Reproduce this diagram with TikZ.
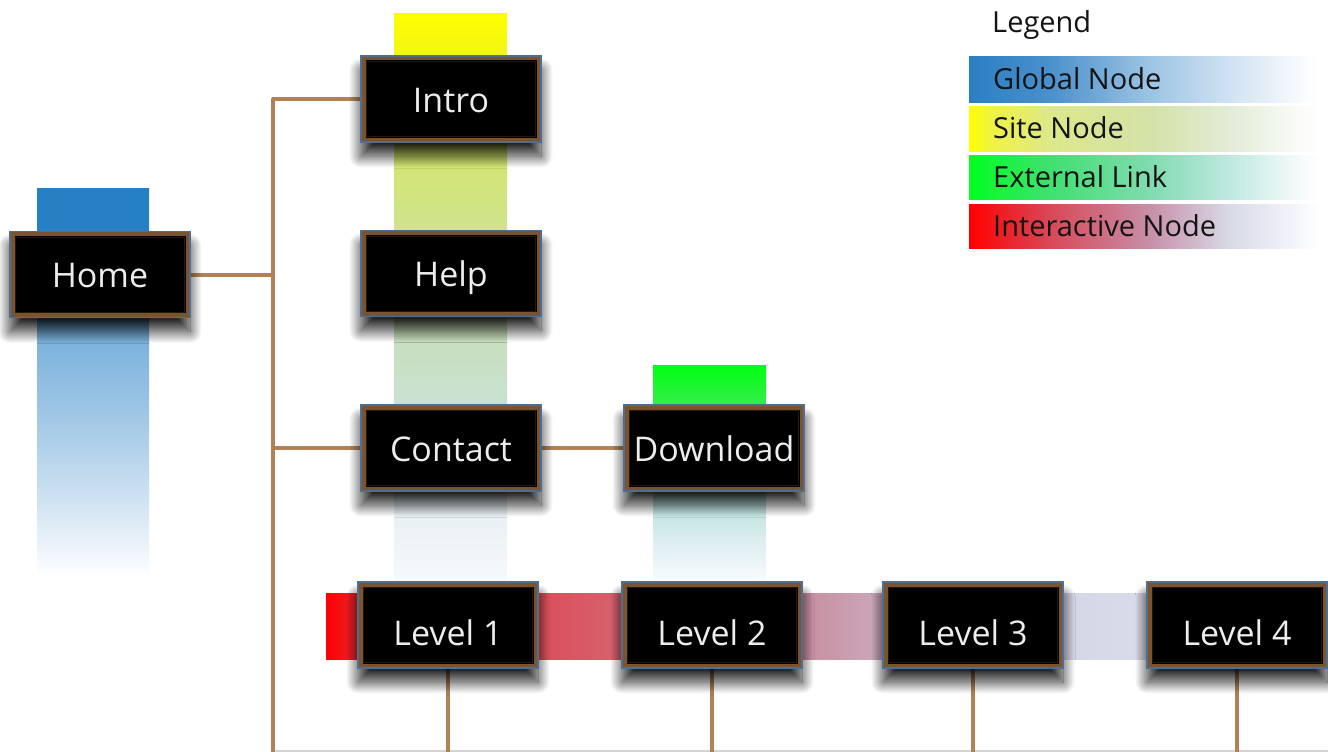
\documentclass[tikz,border=0pt]{standalone}
\usepackage{fontspec}
\setmainfont{Open Sans}
\usetikzlibrary{shadows.blur}
\pgfdeclarelayer{bg}
\pgfsetlayers{bg,main}

\definecolor{conn}{HTML}{B08256}
\definecolor{frameb}{HTML}{7A5430}
\definecolor{frameo}{HTML}{4F6E92}
\definecolor{boxtext}{HTML}{EDEDED}
\definecolor{gridline}{HTML}{D4D4D4}

% home bar
\definecolor{hbA}{HTML}{2880C4}
\definecolor{hbB}{HTML}{5C9DD3}
\definecolor{hbC}{HTML}{76B0DC}
\definecolor{hbD}{HTML}{A2C8E6}
\definecolor{hbE}{HTML}{CFE2F2}
\pgfdeclareverticalshading{homebar}{100bp}{color(0bp)=(white); color(25bp)=(white); color(35bp)=(hbE); color(45.3bp)=(hbD); color(56.8bp)=(hbC); color(60.6bp)=(hbB); color(70bp)=(hbA); color(100bp)=(hbA)}
% site bar
\definecolor{sbA}{HTML}{FFFF00}
\definecolor{sbB}{HTML}{F0F418}
\definecolor{sbC}{HTML}{D4E56C}
\definecolor{sbD}{HTML}{CFE38A}
\definecolor{sbE}{HTML}{C9DFBC}
\definecolor{sbF}{HTML}{C9E0D0}
\definecolor{sbG}{HTML}{E6EEF2}
\definecolor{sbH}{HTML}{F6F9FB}
\pgfdeclareverticalshading{sitebar}{100bp}{color(0bp)=(white); color(25bp)=(sbH); color(32.1bp)=(sbG); color(40.9bp)=(sbF); color(47.1bp)=(sbE); color(56.8bp)=(sbD); color(63bp)=(sbC); color(70.9bp)=(sbB); color(75bp)=(sbA); color(100bp)=(sbA)}
% external bar
\definecolor{ebA}{HTML}{00FF11}
\definecolor{ebB}{HTML}{30EE44}
\definecolor{ebC}{HTML}{70D8A0}
\definecolor{ebD}{HTML}{B8E0DC}
\definecolor{ebE}{HTML}{DCEDF0}
\definecolor{ebF}{HTML}{F6FAFB}
\pgfdeclareverticalshading{extbar}{100bp}{color(0bp)=(white); color(25bp)=(ebF); color(33.9bp)=(ebE); color(43.3bp)=(ebD); color(55bp)=(ebC); color(66.8bp)=(ebB); color(75bp)=(ebA); color(100bp)=(ebA)}
% interactive bar
\definecolor{ibA}{HTML}{FF0000}
\definecolor{ibB}{HTML}{E42832}
\definecolor{ibC}{HTML}{D9545F}
\definecolor{ibD}{HTML}{C894A6}
\definecolor{ibE}{HTML}{CFCFE0}
\definecolor{ibF}{HTML}{D6D9E7}
\definecolor{ibG}{HTML}{DFE3EE}
\pgfdeclarehorizontalshading{intbar}{100bp}{color(0bp)=(ibA); color(25bp)=(ibA); color(26.7bp)=(ibB); color(36.7bp)=(ibC); color(49.7bp)=(ibD); color(58.6bp)=(ibE); color(63.6bp)=(ibF); color(75bp)=(ibG); color(100bp)=(ibG)}

% legend shadings
\definecolor{lgA}{HTML}{2A7FC4}
\definecolor{lgB}{HTML}{4A90CC}
\definecolor{lgC}{HTML}{9DC4E4}
\definecolor{lgD}{HTML}{D0E2F2}
\definecolor{lgE}{HTML}{F8FBFD}
\pgfdeclarehorizontalshading{lgglobal}{100bp}{color(0bp)=(lgA); color(25bp)=(lgA); color(36.5bp)=(lgB); color(50.8bp)=(lgC); color(62.2bp)=(lgD); color(72.2bp)=(lgE); color(75bp)=(white); color(100bp)=(white)}
\definecolor{lsA}{HTML}{FFFF00}
\definecolor{lsB}{HTML}{F0F340}
\definecolor{lsC}{HTML}{DDE88A}
\definecolor{lsD}{HTML}{D3E2A8}
\definecolor{lsE}{HTML}{E2ECD8}
\definecolor{lsF}{HTML}{FAFCF8}
\pgfdeclarehorizontalshading{lgsite}{100bp}{color(0bp)=(lsA); color(25bp)=(lsA); color(28bp)=(lsB); color(36.5bp)=(lsC); color(50.8bp)=(lsD); color(62.2bp)=(lsE); color(72.2bp)=(lsF); color(75bp)=(white); color(100bp)=(white)}
\definecolor{leA}{HTML}{00FF20}
\definecolor{leB}{HTML}{3FE070}
\definecolor{leC}{HTML}{80DBB0}
\definecolor{leD}{HTML}{C0E8E0}
\definecolor{leE}{HTML}{F6FBFB}
\pgfdeclarehorizontalshading{lgext}{100bp}{color(0bp)=(leA); color(25bp)=(leA); color(36.5bp)=(leB); color(50.8bp)=(leC); color(62.2bp)=(leD); color(72.2bp)=(leE); color(75bp)=(white); color(100bp)=(white)}
\definecolor{liA}{HTML}{FF0000}
\definecolor{liB}{HTML}{D84858}
\definecolor{liC}{HTML}{C790A8}
\definecolor{liD}{HTML}{D8DAE8}
\definecolor{liE}{HTML}{F6F7FB}
\pgfdeclarehorizontalshading{lgint}{100bp}{color(0bp)=(liA); color(25bp)=(liA); color(36.5bp)=(liB); color(50.8bp)=(liC); color(62.2bp)=(liD); color(72.2bp)=(liE); color(75bp)=(white); color(100bp)=(white)}

\tikzset{
  sitebox/.style={rectangle, fill=black, draw=frameo, line width=1.5pt,
    minimum width=180pt, minimum height=86pt, inner sep=0pt,
    text=boxtext, font=\fontsize{34}{40}\selectfont,
    text height=30pt, text depth=4pt,
    blur shadow={shadow xshift=0pt, shadow yshift=-14pt, shadow blur radius=12pt, shadow opacity=85, shadow scale=1, shadow blur steps=24},
    path picture={\draw[frameb, line width=9pt] (path picture bounding box.south west) rectangle (path picture bounding box.north east);
                  \draw[black!70!frameb, line width=1pt] ([xshift=5.5pt,yshift=5.5pt]path picture bounding box.south west) rectangle ([xshift=-5.5pt,yshift=-5.5pt]path picture bounding box.north east);}},
  levelbox/.style={sitebox, text height=42pt, text depth=2pt},
  conline/.style={conn, line width=4pt},
  legtext/.style={anchor=west, inner sep=0pt, text=black!92, font=\fontsize{29}{34}\selectfont},
}

\begin{document}
\begin{tikzpicture}[x=1pt,y=-1pt]
\useasboundingbox (0,0) rectangle (1328,752);

% nodes
\node[sitebox] (home) at (100,274.5) {Home};
\node[sitebox] (intro) at (451,99) {Intro};
\node[sitebox] (help) at (451,273.5) {Help};
\node[sitebox] (contact) at (451,448) {Contact};
\node[sitebox] (download) at (714,448) {Download};
\node[levelbox] (l1) at (448,625) {Level 1};
\node[levelbox] (l2) at (712,625) {Level 2};
\node[levelbox] (l3) at (973,625) {Level 3};
\node[levelbox] (l4) at (1237,625) {Level 4};

\coordinate (trunktop) at (273,99);
\coordinate (trunkbot) at (273,754);

% legend
\node[legtext] (legend) at (992,25) {Legend};
\path[shading=lgglobal] (969,57) rectangle (1320,102);
\path[shading=lgsite] (969,106) rectangle (1320,151);
\path[shading=lgext] (969,155) rectangle (1320,199);
\path[shading=lgint] (969,204) rectangle (1320,248);
\node[legtext] (lg1) at (993,79) {Global Node};
\node[legtext] (lg2) at (993,128) {Site Node};
\node[legtext] (lg3) at (993,177) {External Link};
\node[legtext] (lg4) at (993,226) {Interactive Node};

\begin{pgfonlayer}{bg}
  % colour bars
  \path[shading=homebar] (37,188) rectangle (149,578);
  \path[shading=sitebar] (394,14) rectangle (507,580);
  \path[shading=extbar] (653,365) rectangle (766,578);
  \path[shading=intbar] (326,593) rectangle (1328,659);
  % connectors
  \draw[gridline, line width=1.5pt] (trunkbot |- 0,751) -- (1328,751);
  \draw[conline, line join=round] (intro.west) -- (trunktop) -- (trunkbot);
  \draw[conline] (home.east) -- (home.east -| trunktop);
  \draw[conline] (contact.west) -- (contact.west -| trunktop);
  \draw[conline] (contact.east) -- (download.west);
  \foreach \n in {l1,l2,l3,l4} {
    \draw[conline] (\n.south) -- (\n.south |- trunkbot);
  }
\end{pgfonlayer}
\end{tikzpicture}
\end{document}
